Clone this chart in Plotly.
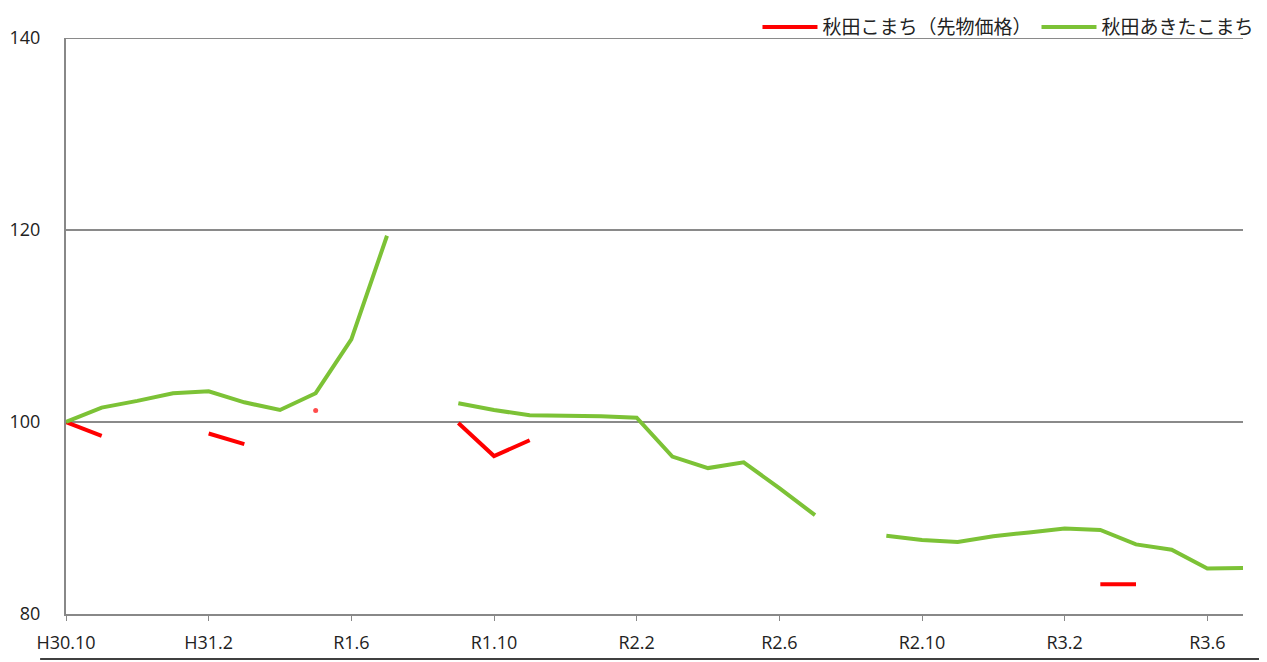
import plotly.graph_objects as go

months = ["H30.10", "H30.11", "H30.12", "H31.1", "H31.2", "H31.3", "H31.4",
          "R1.5", "R1.6", "R1.7", "R1.8", "R1.9", "R1.10", "R1.11", "R1.12",
          "R2.1", "R2.2", "R2.3", "R2.4", "R2.5", "R2.6", "R2.7", "R2.8", "R2.9",
          "R2.10", "R2.11", "R2.12", "R3.1", "R3.2", "R3.3", "R3.4", "R3.5",
          "R3.6", "R3.7"]

tick_labels = ["H30.10", "H31.2", "R1.6", "R1.10", "R2.2", "R2.6", "R2.10", "R3.2", "R3.6"]

futures = [100, 98.55, None, None, 98.8, 97.7, None, 101.2, None, None, None,
           99.9, 96.45, 98.1, None, None, None, None, None, None, None, None,
           None, None, None, None, None, None, None, 83.1, 83.1, None, None, None]

akita = [100, 101.5, 102.2, 103.0, 103.2, 102.05, 101.25, 103.0, 108.6, 119.4,
         None, 101.95, 101.25, 100.7, 100.7, 100.6, 100.45, 96.4, 95.2, 95.8,
         93.1, 90.3, None, 88.15, 87.7, 87.5, 88.1, 88.5, 88.9, 88.75, 87.25,
         86.7, 84.75, 84.8]

y_ticks = [80, 100, 120, 140]


def isolated_sizes(vals, size):
    out = []
    for i, v in enumerate(vals):
        prev_v = vals[i - 1] if i > 0 else None
        next_v = vals[i + 1] if i < len(vals) - 1 else None
        out.append(size if (v is not None and prev_v is None and next_v is None) else 0)
    return out


fig = go.Figure()
fig.add_trace(go.Scatter(
    x=months, y=futures, name="秋田こまち（先物価格）",
    mode="lines+markers", connectgaps=False,
    line=dict(color="#FF0000", width=4),
    marker=dict(color="#FF0000", size=isolated_sizes(futures, 5), line=dict(width=0)),
))
fig.add_trace(go.Scatter(
    x=months, y=akita, name="秋田あきたこまち",
    mode="lines", connectgaps=False,
    line=dict(color="#7CC236", width=4),
))

# page body has an 8px margin, so the figure is offset by 8px
fig.update_layout(
    width=1259, height=654,
    margin=dict(l=58, r=24, t=30, b=48, autoexpand=False),
    paper_bgcolor="white", plot_bgcolor="white",
    font=dict(family="Open Sans, Liberation Sans, sans-serif", size=18, color="#222222"),
    showlegend=True,
    legend=dict(
        orientation="h", x=1.014, xanchor="right", y=1.052, yanchor="top",
        font=dict(family="Noto Sans CJK JP", size=19, color="#222222"),
        bgcolor="rgba(0,0,0,0)", itemwidth=55, tracegroupgap=0,
    ),
)

fig.update_xaxes(
    type="category", range=[0, len(months) - 1],
    tickmode="array", tickvals=tick_labels, ticktext=tick_labels,
    showgrid=False, zeroline=False,
    showline=True, linecolor="#888888", linewidth=2,
    ticks="outside", ticklen=5, tickcolor="#888888", tickwidth=1,
    ticklabelstandoff=6,
)
fig.update_yaxes(
    range=[80, 140], tickmode="array", tickvals=y_ticks,
    showgrid=True, gridcolor="#8a8a8a", gridwidth=1.5,
    zeroline=False, showline=True, linecolor="#888888", linewidth=2,
    ticks="", ticklabelstandoff=20,
)

# top gridline at 140 (hidden by plotly at the range edge)
fig.add_shape(type="line", xref="paper", yref="y",
              x0=0, x1=1, y0=140, y1=140,
              line=dict(color="#8a8a8a", width=2), layer="below")

fig.add_shape(type="line", xref="paper", yref="paper",
              x0=-0.022, x1=1.03, y0=-0.078, y1=-0.078,
              line=dict(color="#000000", width=1.5))

fig.write_html("out.html")
